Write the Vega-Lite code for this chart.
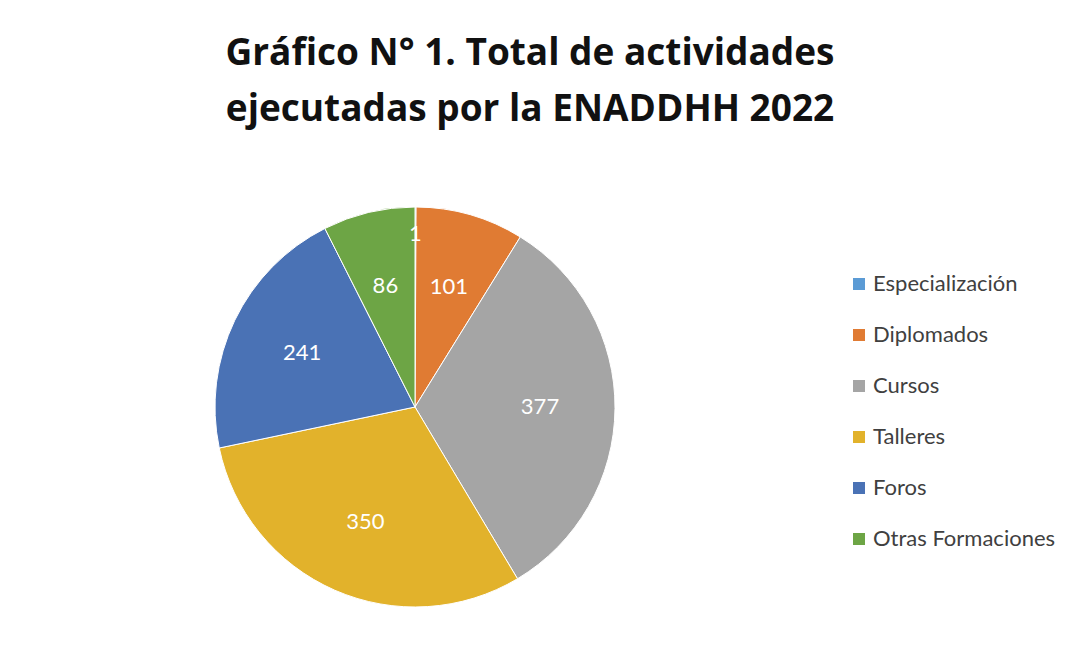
{
  "$schema": "https://vega.github.io/schema/vega-lite/v6.json",
  "width": 400,
  "height": 400,
  "padding": {"top": 35, "left": 213, "right": 10, "bottom": 10},
  "background": "white",
  "title": {
    "text": ["Gráfico N° 1. Total de actividades", "ejecutadas por la ENADDHH 2022"],
    "font": "Open Sans",
    "fontSize": 37,
    "fontWeight": "bold",
    "color": "#111111",
    "lineHeight": 56,
    "anchor": "middle",
    "dx": 115,
    "offset": 76
  },
  "data": {
    "values": [
      {"tipo": "Especialización", "valor": 1, "orden": 1},
      {"tipo": "Diplomados", "valor": 101, "orden": 2},
      {"tipo": "Cursos", "valor": 377, "orden": 3},
      {"tipo": "Talleres", "valor": 350, "orden": 4},
      {"tipo": "Foros", "valor": 241, "orden": 5},
      {"tipo": "Otras Formaciones", "valor": 86, "orden": 6}
    ]
  },
  "encoding": {
    "theta": {"field": "valor", "type": "quantitative", "stack": true},
    "order": {"field": "orden", "type": "quantitative"},
    "color": {
      "field": "tipo",
      "type": "nominal",
      "sort": ["Especialización", "Diplomados", "Cursos", "Talleres", "Foros", "Otras Formaciones"],
      "scale": {
        "domain": ["Especialización", "Diplomados", "Cursos", "Talleres", "Foros", "Otras Formaciones"],
        "range": ["#5B9BD5", "#E07B33", "#A5A5A5", "#E2B22B", "#4A72B5", "#6DA545"]
      },
      "legend": {
        "title": null,
        "orient": "none",
        "legendX": 633,
        "legendY": 66,
        "symbolType": "square",
        "symbolSize": 144,
        "symbolStrokeWidth": 0,
        "labelFont": "Lato",
        "labelFontSize": 22,
        "labelColor": "#404040",
        "labelOffset": 3,
        "labelLimit": 0,
        "rowPadding": 29
      }
    }
  },
  "layer": [
    {
      "mark": {"type": "arc", "outerRadius": 200, "stroke": "white", "strokeWidth": 1}
    },
    {
      "transform": [{"filter": "datum.valor >= 5"}],
      "mark": {"type": "text", "radius": 125, "font": "Lato", "fontSize": 22, "fill": "white"},
      "encoding": {"text": {"field": "valor", "type": "quantitative"}, "color": {"value": "white"}}
    },
    {
      "transform": [{"filter": "datum.valor < 5"}],
      "mark": {"type": "text", "radius": 173, "font": "Lato", "fontSize": 22, "fill": "white"},
      "encoding": {"text": {"field": "valor", "type": "quantitative"}, "color": {"value": "white"}}
    }
  ],
  "config": {"view": {"stroke": null}}
}
